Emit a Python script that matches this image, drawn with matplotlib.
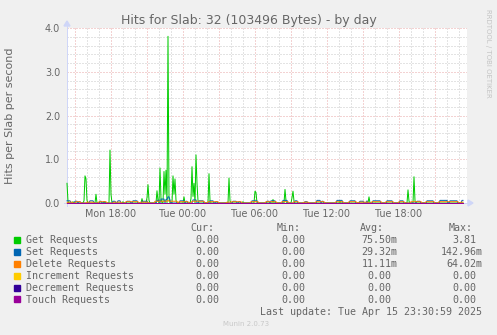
import matplotlib
matplotlib.use("Agg")
import matplotlib.pyplot as plt
import matplotlib.dates as md
import matplotlib.ticker as mt
from matplotlib.patches import Polygon, Rectangle
import pandas as pd

W, H = 497, 335
DAYS = {"Mon": "2025-04-14", "Tue": "2025-04-15"}

view_start = "Mon 14:20"
view_end = "Tue 23:40"
first_sample = "Mon 14:20"
last_sample = "Tue 23:20"

labels = ["Get Requests", "Set Requests", "Delete Requests",
          "Increment Requests", "Decrement Requests", "Touch Requests"]
colors = ["#00CC00", "#0066B3", "#FF8000", "#FFCC00", "#330099", "#990099"]

# Get requests: 5-minute samples that are not zero
get_points = [
    ("Mon 14:20", 0.45), ("Mon 14:25", 0.04), ("Mon 14:50", 0.03), ("Mon 15:45", 0.05),
    ("Mon 15:50", 0.62), ("Mon 15:55", 0.55), ("Mon 16:00", 0.06), ("Mon 16:45", 0.20),
    ("Mon 17:25", 0.03), ("Mon 17:55", 1.21), ("Mon 18:00", 0.20), ("Mon 19:00", 0.03),
    ("Mon 20:35", 0.10), ("Mon 21:00", 0.12), ("Mon 21:05", 0.42), ("Mon 21:10", 0.06),
    ("Mon 21:50", 0.28), ("Mon 21:55", 0.05), ("Mon 22:05", 0.80), ("Mon 22:10", 0.10),
    ("Mon 22:25", 0.72), ("Mon 22:30", 0.20), ("Mon 22:35", 0.75), ("Mon 22:45", 3.81),
    ("Mon 22:50", 0.10), ("Mon 23:10", 0.62), ("Mon 23:15", 0.20), ("Mon 23:20", 0.55),
    ("Mon 23:25", 0.06), ("Tue 00:05", 0.14), ("Tue 00:40", 0.10), ("Tue 00:45", 0.83),
    ("Tue 00:50", 0.15), ("Tue 00:55", 0.45), ("Tue 01:05", 1.10), ("Tue 01:10", 0.45),
    ("Tue 01:15", 0.05), ("Tue 02:10", 0.67), ("Tue 02:15", 0.05), ("Tue 03:50", 0.57),
    ("Tue 03:55", 0.05), ("Tue 05:00", 0.03), ("Tue 06:00", 0.27), ("Tue 06:05", 0.24),
    ("Tue 07:30", 0.08), ("Tue 08:30", 0.31), ("Tue 08:35", 0.05), ("Tue 09:05", 0.12),
    ("Tue 09:10", 0.27), ("Tue 09:15", 0.04), ("Tue 13:05", 0.05), ("Tue 15:30", 0.14),
    ("Tue 18:45", 0.30), ("Tue 18:50", 0.04), ("Tue 19:15", 0.60), ("Tue 19:20", 0.05),
]
# Set / Delete requests: (from, to, value) runs of 5-minute samples
set_runs = [
    ("Mon 14:20", "Mon 14:35", 0.05), ("Mon 15:00", "Mon 15:10", 0.04),
    ("Mon 15:20", "Mon 15:25", 0.03), ("Mon 16:15", "Mon 16:30", 0.05),
    ("Mon 17:05", "Mon 17:10", 0.04), ("Mon 17:25", "Mon 17:30", 0.03),
    ("Mon 18:10", "Mon 18:20", 0.04), ("Mon 18:35", "Mon 18:45", 0.05),
    ("Mon 19:20", "Mon 19:35", 0.04), ("Mon 19:50", "Mon 20:10", 0.05),
    ("Mon 20:35", "Mon 21:00", 0.04), ("Mon 21:50", "Mon 22:00", 0.06),
    ("Mon 22:10", "Mon 22:25", 0.09), ("Mon 22:35", "Mon 22:40", 0.08),
    ("Mon 22:45", "Mon 22:50", 0.14), ("Mon 22:55", "Mon 22:55", 0.07),
    ("Mon 23:45", "Tue 00:05", 0.05), ("Tue 00:15", "Tue 00:20", 0.04),
    ("Tue 00:50", "Tue 01:05", 0.07), ("Tue 01:20", "Tue 01:40", 0.05),
    ("Tue 02:15", "Tue 02:30", 0.05), ("Tue 02:45", "Tue 02:50", 0.03),
    ("Tue 04:10", "Tue 04:25", 0.04), ("Tue 04:40", "Tue 04:45", 0.03),
    ("Tue 05:45", "Tue 06:10", 0.05), ("Tue 07:00", "Tue 07:10", 0.04),
    ("Tue 07:20", "Tue 07:40", 0.05), ("Tue 08:20", "Tue 08:40", 0.06),
    ("Tue 09:20", "Tue 09:30", 0.05), ("Tue 10:10", "Tue 10:20", 0.03),
    ("Tue 11:10", "Tue 11:25", 0.06), ("Tue 11:35", "Tue 11:40", 0.04),
    ("Tue 12:50", "Tue 13:15", 0.06), ("Tue 13:55", "Tue 14:20", 0.05),
    ("Tue 14:45", "Tue 15:00", 0.04), ("Tue 15:20", "Tue 15:20", 0.05),
    ("Tue 15:50", "Tue 16:25", 0.05), ("Tue 17:00", "Tue 17:25", 0.05),
    ("Tue 18:05", "Tue 18:20", 0.05), ("Tue 19:30", "Tue 19:45", 0.04),
    ("Tue 20:20", "Tue 20:50", 0.05), ("Tue 21:25", "Tue 22:00", 0.06),
    ("Tue 22:15", "Tue 22:50", 0.05), ("Tue 23:15", "Tue 23:20", 0.06),
]
delete_runs = [
    ("Mon 14:25", "Mon 14:45", 0.02), ("Mon 15:05", "Mon 15:25", 0.03),
    ("Mon 16:00", "Mon 16:30", 0.02), ("Mon 17:00", "Mon 17:35", 0.03),
    ("Mon 18:15", "Mon 18:50", 0.02), ("Mon 19:15", "Mon 20:15", 0.03),
    ("Mon 20:30", "Mon 21:05", 0.02), ("Mon 21:40", "Mon 22:40", 0.04),
    ("Mon 22:45", "Mon 22:45", 0.06), ("Mon 22:50", "Mon 23:30", 0.04),
    ("Mon 23:40", "Tue 00:25", 0.03), ("Tue 00:45", "Tue 01:45", 0.04),
    ("Tue 02:05", "Tue 02:55", 0.03), ("Tue 03:40", "Tue 04:00", 0.02),
    ("Tue 04:05", "Tue 04:50", 0.03), ("Tue 05:40", "Tue 06:15", 0.03),
    ("Tue 06:55", "Tue 07:45", 0.03), ("Tue 08:15", "Tue 08:45", 0.03),
    ("Tue 09:15", "Tue 09:35", 0.03), ("Tue 10:05", "Tue 10:25", 0.02),
    ("Tue 11:05", "Tue 11:45", 0.03), ("Tue 12:45", "Tue 13:20", 0.03),
    ("Tue 13:50", "Tue 14:25", 0.03), ("Tue 14:40", "Tue 15:25", 0.02),
    ("Tue 15:45", "Tue 16:30", 0.03), ("Tue 16:55", "Tue 17:30", 0.03),
    ("Tue 18:00", "Tue 18:25", 0.03), ("Tue 19:00", "Tue 19:50", 0.03),
    ("Tue 20:15", "Tue 20:55", 0.03), ("Tue 21:20", "Tue 22:05", 0.03),
    ("Tue 22:10", "Tue 22:55", 0.03), ("Tue 23:10", "Tue 23:20", 0.02),
]
increment_runs = []
decrement_runs = []
touch_runs = []

cur_values = ["0.00", "0.00", "0.00", "0.00", "0.00", "0.00"]
min_values = ["0.00", "0.00", "0.00", "0.00", "0.00", "0.00"]
avg_values = ["75.50m", "29.32m", "11.11m", "0.00", "0.00", "0.00"]
max_values = ["3.81", "142.96m", "64.02m", "0.00", "0.00", "0.00"]

title = "Hits for Slab: 32 (103496 Bytes) - by day"
ylabel = "Hits per Slab per second"
last_update = "Last update: Tue Apr 15 23:30:59 2025"


def stamp(s):
    day, hm = s.split()
    return pd.Timestamp(f"{DAYS[day]} {hm}")


def empty_series():
    idx = pd.date_range(stamp(first_sample), stamp(last_sample), freq="5min")
    return pd.Series(0.0, index=idx)


def from_points(points):
    s = empty_series()
    for t, v in points:
        s[stamp(t)] = v
    return s


def from_runs(runs):
    s = empty_series()
    for a, b, v in runs:
        s[stamp(a):stamp(b)] = v
    return s


def fx(x):
    return x / W


def fy(y):
    return 1 - y / H


FONT = "#666666"
AXIS = "#CFD6F8"
LW = 0.72

fig = plt.figure(figsize=(W / 100, H / 100), dpi=100, facecolor="#F0F0F0")
ax = fig.add_axes([fx(67), fy(203), 400 / W, 175 / H], facecolor="white")

series = [from_points(get_points), from_runs(set_runs), from_runs(delete_runs),
          from_runs(increment_runs), from_runs(decrement_runs), from_runs(touch_runs)]
for s, c in zip(series, colors):
    ax.plot(s.index, s.values, color=c, lw=LW, clip_on=False, zorder=3)

ax.set_xlim(stamp(view_start), stamp(view_end))
ax.set_ylim(0, 4.0)

ax.xaxis.set_major_locator(md.HourLocator(byhour=range(0, 24, 3)))
ax.xaxis.set_minor_locator(md.HourLocator())


def xfmt(v, pos):
    d = md.num2date(v)
    return d.strftime("%a %H:%M") if d.hour % 6 == 0 else ""


ax.xaxis.set_major_formatter(mt.FuncFormatter(xfmt))
ax.yaxis.set_major_locator(mt.MultipleLocator(1.0))
ax.yaxis.set_minor_locator(mt.MultipleLocator(0.2))
ax.yaxis.set_major_formatter(mt.FormatStrFormatter("%.1f"))

ax.grid(which="minor", color="#c8c8c8", ls=(0, (1, 2)), lw=LW)
ax.grid(which="major", color="#e8a6a6", ls=(0, (1, 2)), lw=LW)
ax.set_axisbelow(True)
for sp in ax.spines.values():
    sp.set_visible(False)
ax.tick_params(which="both", length=0, colors=FONT, labelsize=6.9)
ax.tick_params(axis="x", pad=4)
ax.tick_params(axis="y", pad=5)

# axes with arrows
ax.plot([fx(64), fx(468)], [fy(203), fy(203)], color=AXIS, lw=LW,
        transform=fig.transFigure, clip_on=False, zorder=2)
ax.plot([fx(67), fx(67)], [fy(206), fy(25)], color=AXIS, lw=LW,
        transform=fig.transFigure, clip_on=False, zorder=2)
fig.patches.append(Polygon([(fx(64), fy(26)), (fx(70), fy(26)), (fx(67), fy(21))],
                           closed=True, color=AXIS, transform=fig.transFigure))
fig.patches.append(Polygon([(fx(468), fy(200)), (fx(468), fy(206)), (fx(473), fy(203))],
                           closed=True, color=AXIS, transform=fig.transFigure))

fig.text(fx(248.7), fy(24), title, ha="center", va="baseline", fontsize=9, color=FONT)
fig.text(fx(10.5), fy(115.5), ylabel, ha="center", va="center", rotation=90,
         fontsize=8, color=FONT)
fig.text(fx(488), fy(53), "RRDTOOL / TOBI OETIKER", ha="center", va="center",
         rotation=-90, fontsize=5, color="#c4c4c4")

# legend
MONO = "DejaVu Sans Mono"
LFS = 7.2
header_y = 231.3
row_y = [243.3, 255.3, 267.2, 279.1, 291.0, 302.9]
for name, x in [("Cur:", 190.7), ("Min:", 276.7), ("Avg:", 360), ("Max:", 449)]:
    fig.text(fx(x), fy(header_y), name, ha="left", va="baseline",
             family=MONO, fontsize=LFS, color=FONT)
for i, y in enumerate(row_y):
    fig.patches.append(Rectangle((fx(14), fy(y - 0.5)), 6 / W, 6 / H,
                                 color=colors[i], transform=fig.transFigure))
    fig.text(fx(26), fy(y), labels[i], ha="left", va="baseline",
             family=MONO, fontsize=LFS, color=FONT)
    for val, right in [(cur_values[i], 219.3), (min_values[i], 305.3),
                       (avg_values[i], 397.3), (max_values[i], 482.7)]:
        r = right if val.endswith("m") or right < 310 else right - 6
        fig.text(fx(r), fy(y), val, ha="right", va="baseline",
                 family=MONO, fontsize=LFS, color=FONT)

fig.text(fx(482.5), fy(315), last_update, ha="right", va="baseline",
         family=MONO, fontsize=LFS, color=FONT)
fig.text(fx(246), fy(326), "Munin 2.0.73", ha="center", va="baseline",
         fontsize=5, color="#c8c8c8")

fig.savefig("out.png", dpi=100, facecolor=fig.get_facecolor())
